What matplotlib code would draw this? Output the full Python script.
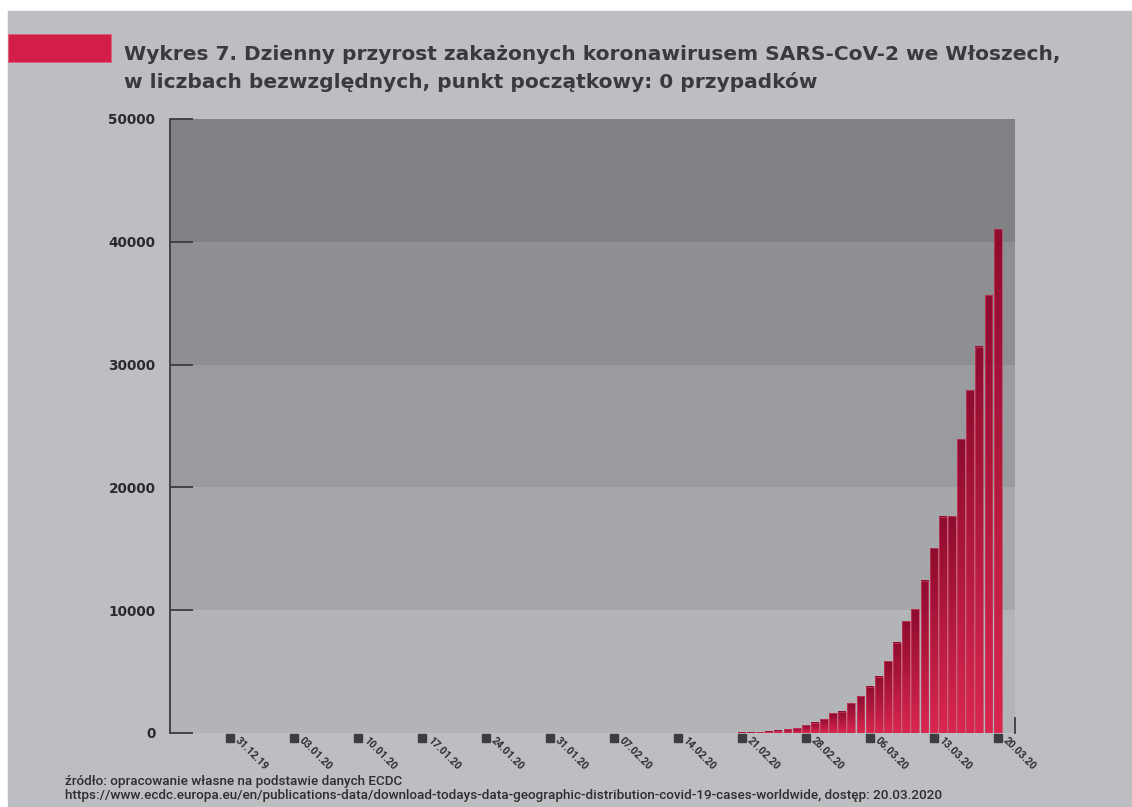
import numpy as np
import matplotlib
matplotlib.use("Agg")
import matplotlib.pyplot as plt
from matplotlib.colors import LinearSegmentedColormap
from matplotlib.patches import Rectangle

# data (cumulative cases, Italy, from 21.02.20 to 20.03.20)
tick_labels = ['31.12.19', '03.01.20', '10.01.20', '17.01.20', '24.01.20', '31.01.20',
               '07.02.20', '14.02.20', '21.02.20', '28.02.20', '06.03.20', '13.03.20', '20.03.20']
cases = [3, 17, 62, 110, 200, 300, 390, 630, 830,
         1100, 1600, 1735, 2415, 3013, 3773, 4587, 5835, 7330, 9093,
         10070, 12400, 15040, 17590, 17670, 23940, 27930, 31460, 35640, 41020]
y_ticks = [0, 10000, 20000, 30000, 40000, 50000]
band_colors = ['#b3b4b8', '#a6a7ab', '#9a9b9f', '#8e8f93', '#818286']

title1 = 'Wykres 7. Dzienny przyrost zakażonych koronawirusem SARS-CoV-2 we Włoszech,'
title2 = 'w liczbach bezwzględnych, punkt początkowy: 0 przypadków'
src1 = 'źródło: opracowanie własne na podstawie danych ECDC'
src2 = ('https://www.ecdc.europa.eu/en/publications-data/download-todays-data-geographic-'
        'distribution-covid-19-cases-worldwide, dostęp: 20.03.2020')

W, H = 1132, 807
fig = plt.figure(figsize=(W / 100, H / 100), dpi=100, facecolor='white')
fig.patches.append(Rectangle((8 / W, 0), 1 - 8 / W, 1 - 11 / H, transform=fig.transFigure,
                             color='#bdbec2', zorder=-10))
# red marker in front of the title
fig.patches.append(Rectangle((8 / W, 1 - 62 / H), 103 / W, 28 / H, transform=fig.transFigure,
                             facecolor='#d21e48', edgecolor='#e0607a', lw=0.6, zorder=1))

fig.text(124 / W, 1 - 59.5 / H, title1, fontsize=14.5, fontweight='bold', color='#3a3a3c',
         family='DejaVu Sans', va='baseline')
fig.text(124 / W, 1 - 88 / H, title2, fontsize=14.5, fontweight='bold', color='#3a3a3c',
         family='DejaVu Sans', va='baseline')

ax = fig.add_axes([170 / W, 1 - 733 / H, 845 / W, 614 / H])
ax.set_facecolor('none')

for k, c in enumerate(band_colors):
    ax.axhspan(y_ticks[k], y_ticks[k + 1], color=c, lw=0, zorder=0)

tick_pos = np.arange(len(tick_labels)) * 7
bar_pos = tick_pos[8] + np.arange(len(cases))

cmap = LinearSegmentedColormap.from_list('bar', ['#da2650', '#8e0c2e'])
grad = np.linspace(0, 1, 256).reshape(-1, 1)
bw = 0.86
for x, v in zip(bar_pos, cases):
    ax.imshow(grad, extent=(x - bw / 2, x + bw / 2, 0, v), aspect='auto', cmap=cmap,
              origin='lower', zorder=2, interpolation='bilinear')
    ax.add_patch(Rectangle((x - bw / 2, 0), bw, v, facecolor='none', edgecolor='#c9415f',
                           lw=0.5, zorder=3))

ax.set_xlim(-6.56, 85.9)
ax.set_ylim(0, 50000)

for s in ['top', 'right', 'bottom']:
    ax.spines[s].set_visible(False)
ax.spines['left'].set_color('#3c3c3e')
ax.spines['left'].set_linewidth(1.3)

ax.set_yticks(y_ticks)
ax.set_yticklabels([str(t) for t in y_ticks])
ax.tick_params(axis='y', direction='in', length=16.5, width=1.3, color='#3c3c3e',
               pad=10.5, labelsize=9.8, labelcolor='#2b2b2d')
for lab in ax.get_yticklabels():
    lab.set_fontweight('bold')

ax.set_xticks([])
ax.plot(tick_pos, np.zeros(len(tick_pos)), ls='none', marker='s', ms=5.6, color='#3d3d3f',
        transform=ax.get_xaxis_transform() + matplotlib.transforms.ScaledTranslation(0, -5 / 100, fig.dpi_scale_trans),
        clip_on=False, zorder=5)
for x, lab in zip(tick_pos, tick_labels):
    ax.annotate(lab, xy=(x, 0), xycoords=('data', 'axes fraction'), xytext=(5.0, -4.2),
                textcoords='offset points', rotation=-45, rotation_mode='anchor',
                ha='left', va='center', fontsize=7.5, fontweight='bold', family='Roboto',
                color='#2e2e30', annotation_clip=False)

# small closing mark at the right end of the axis
ax.plot([1, 1], [0, 0.025], transform=ax.transAxes, color='#3c3c3e', lw=1.3, clip_on=False)

fig.text(65 / W, 1 - 781 / H, src1, fontsize=9.7, fontweight='medium', family='Roboto',
         color='#2e2e30', va='center')
fig.text(65 / W, 1 - 795 / H, src2, fontsize=9.7, fontweight='medium', family='Roboto',
         color='#2e2e30', va='center')

fig.savefig('out.png', dpi=100, facecolor=fig.get_facecolor())
